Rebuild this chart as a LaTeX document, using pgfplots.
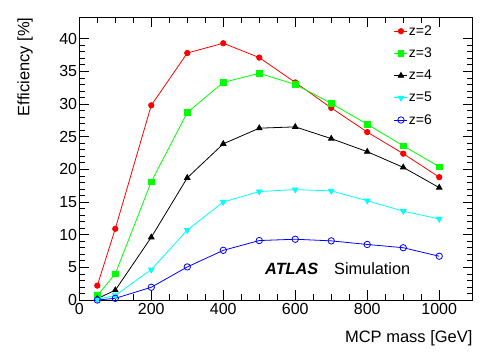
\documentclass[border=0pt]{standalone}
\usepackage{fontspec}
\setmainfont{Liberation Sans}
\usepackage{pgfplots}
\pgfplotsset{compat=1.18}
\definecolor{rRed}{RGB}{255,0,0}
\definecolor{rGreen}{RGB}{0,255,0}
\definecolor{rCyan}{RGB}{0,255,255}
\definecolor{rBlue}{RGB}{0,0,255}
\begin{document}
\begin{tikzpicture}
\begin{axis}[name=ax, scale only axis, width=393.4pt, height=282.7pt,
  xmin=0, xmax=1093, ymin=0, ymax=43.27,
  xtick={0,200,...,1000}, minor x tick num=3,
  ytick={0,5,...,40}, minor y tick num=4,
  tick align=inside, axis line style={line width=0.8pt},
  every tick/.style={black, line width=0.6pt},
  major tick length=10pt, minor tick length=5.5pt,
  /pgf/number format/assume math mode=true,
  /pgf/number format/1000 sep={},
  ticklabel style={font=\fontsize{16}{18}\selectfont},
  xticklabel style={inner sep=3pt},
  yticklabel style={inner sep=2pt},
  xlabel={MCP mass [GeV]}, ylabel={Efficiency [\%]},
  label style={font=\fontsize{16.5}{18}\selectfont, inner sep=0pt},
  xlabel style={at={(axis description cs:1,-0.152)}, anchor=base east},
  ylabel style={at={(axis description cs:-0.127,1)}, anchor=base east, rotate=0},
  legend style={at={(axis description cs:0.792,0.982)}, anchor=north west,
    draw=none, fill=none, font=\fontsize{14}{15}\selectfont, row sep=9pt,
    nodes={inner sep=1pt}},
  legend cell align=left,
  legend image code/.code={\draw[mark repeat=2,mark phase=2] plot coordinates {(0pt,0pt)(6.5pt,0pt)(13pt,0pt)};},
  every axis plot/.append style={line width=0.8pt},
]
\addplot[rRed, mark=*, mark size=2.7pt, mark options={solid}] coordinates {
(50,2.2)(100,10.9)(200,29.8)(300,37.8)(400,39.3)(500,37.1)(600,33.3)(700,29.4)(800,25.7)(900,22.4)(1000,18.8)};
\addlegendentry{z=2}
\addplot[rGreen, mark=square*, mark size=2.8pt] coordinates {
(50,0.66)(100,4.0)(200,18.1)(300,28.7)(400,33.3)(500,34.7)(600,33.0)(700,30.1)(800,26.9)(900,23.6)(1000,20.4)};
\addlegendentry{z=3}
\addplot[black, mark=triangle*, mark size=3.2pt] coordinates {
(50,0.2)(100,1.5)(200,9.6)(300,18.7)(400,23.9)(500,26.3)(600,26.5)(700,24.7)(800,22.7)(900,20.3)(1000,17.2)};
\addlegendentry{z=4}
\addplot[rCyan, mark=triangle*, mark size=3.2pt, mark options={rotate=180}] coordinates {
(50,0.1)(100,0.7)(200,4.65)(300,10.7)(400,15.0)(500,16.6)(600,16.9)(700,16.7)(800,15.2)(900,13.6)(1000,12.4)};
\addlegendentry{z=5}
\addplot[rBlue, mark=o, mark size=3.2pt] coordinates {
(50,0.0)(100,0.25)(200,1.95)(300,5.06)(400,7.6)(500,9.1)(600,9.3)(700,9.05)(800,8.5)(900,8.0)(1000,6.7)};
\addlegendentry{z=6}
\node[anchor=base west, inner sep=0pt, font=\fontsize{16.3}{18}\selectfont\bfseries\itshape] at (axis cs:516,3.84) {ATLAS};
\node[anchor=base west, inner sep=0pt, font=\fontsize{16.3}{18}\selectfont] at (axis cs:707.5,3.84) {Simulation};
\end{axis}
\path[use as bounding box] ([shift={(-79.3pt,-58pt)}]ax.south west) rectangle ([shift={(418.7pt,300pt)}]ax.south west);
\end{tikzpicture}
\end{document}
